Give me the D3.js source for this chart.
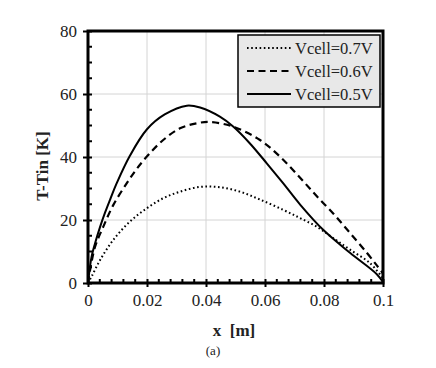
<!DOCTYPE html>
<html>
<head>
<meta charset="utf-8">
<script src="https://cdn.jsdelivr.net/npm/d3@7"></script>
<style>
  body { margin: 0; background: #fff; }
  text { font-family: "Liberation Serif", "Times New Roman", serif; }
</style>
</head>
<body>
<script>
// data
var seriesNames = ['Vcell=0.7V', 'Vcell=0.6V', 'Vcell=0.5V'];

var x07 = [0, 0.0012, 0.0041, 0.0086, 0.0142, 0.0199, 0.0255, 0.0312, 0.038, 0.0447, 0.0515, 0.0583, 0.0662, 0.0719, 0.0775, 0.0832, 0.0888, 0.0956, 0.1];
var y07 = [0, 2.0, 7.3, 13.7, 19.5, 23.7, 26.9, 29.0, 30.5, 30.4, 29.0, 26.5, 23.2, 20.6, 17.9, 14.2, 10.6, 6.3, 1.5];

var x06 = [0, 0.0007, 0.0024, 0.0052, 0.0086, 0.0131, 0.0165, 0.0204, 0.0255, 0.0312, 0.0368, 0.0414, 0.0493, 0.0583, 0.0651, 0.0719, 0.0775, 0.0832, 0.0888, 0.0945, 0.0979, 0.1];
var y06 = [0, 4.1, 11.5, 17.9, 24.8, 31.6, 36.2, 40.6, 45.4, 49.1, 50.7, 51.1, 49.6, 45.4, 40.1, 33.4, 27.6, 22.0, 15.9, 9.6, 5.6, 3];

var x05 = [0, 0.0012, 0.0024, 0.0041, 0.0058, 0.0075, 0.0097, 0.0142, 0.02, 0.026, 0.0335, 0.038, 0.0447, 0.0493, 0.0549, 0.0606, 0.0662, 0.0719, 0.0798, 0.0888, 0.0979, 0.1];
var y05 = [0, 8.3, 12.6, 17.8, 22.4, 26.5, 31.6, 40.4, 48.8, 53.5, 56.3, 55.7, 52.8, 49.6, 44.3, 38.0, 31.6, 24.9, 16.8, 9.6, 2.8, 0.3];

var xTicks = [0, 0.02, 0.04, 0.06, 0.08, 0.1];
var yTicks = [0, 20, 40, 60, 80];

var W = 436, H = 368;
var pL = 88, pR = 383, pT = 31, pB = 283;

var xscale = d3.scaleLinear().domain([0, 0.1]).range([pL, pR]);
var yscale = d3.scaleLinear().domain([0, 80]).range([pB, pT]);

var svg = d3.select('body').append('svg')
    .attr('width', W)
    .attr('height', H);

// gridlines
svg.append('g').selectAll('line')
    .data(xTicks.slice(1, -1))
    .enter().append('line')
    .attr('x1', function (d) { return xscale(d); })
    .attr('x2', function (d) { return xscale(d); })
    .attr('y1', pT).attr('y2', pB)
    .attr('stroke', '#d4d4d4').attr('stroke-width', 1);
svg.append('g').selectAll('line')
    .data(yTicks.slice(1, -1))
    .enter().append('line')
    .attr('y1', function (d) { return yscale(d); })
    .attr('y2', function (d) { return yscale(d); })
    .attr('x1', pL).attr('x2', pR)
    .attr('stroke', '#d4d4d4').attr('stroke-width', 1);

// curves
var series = [
    { name: seriesNames[0], xs: x07, ys: y07, dash: '1.6 2.6', width: 2 },
    { name: seriesNames[1], xs: x06, ys: y06, dash: '7 4.5', width: 2.2 },
    { name: seriesNames[2], xs: x05, ys: y05, dash: null, width: 2 }
];

var line = d3.line()
    .x(function (d) { return xscale(d[0]); })
    .y(function (d) { return yscale(d[1]); })
    .curve(d3.curveCatmullRom.alpha(0.5));

series.forEach(function (s) {
    var pts = s.xs.map(function (v, i) { return [v, s.ys[i]]; });
    svg.append('path')
        .attr('d', line(pts))
        .attr('fill', 'none')
        .attr('stroke', 'black')
        .attr('stroke-width', s.width)
        .attr('stroke-dasharray', s.dash);
});

// axes with inside minor ticks
var xaxis = d3.axisBottom(xscale).tickValues(xTicks).tickSize(4).tickSizeOuter(0)
    .tickPadding(7).tickFormat(function (d) { return d === 0 ? '0' : String(+d.toFixed(2)); });
var gx = svg.append('g').attr('transform', 'translate(0,' + pB + ')').call(xaxis);
gx.selectAll('.tick line').attr('y1', -4).attr('stroke-width', 2);
gx.select('.domain').remove();
gx.selectAll('text').attr('font-size', '17px').attr('font-family', 'Liberation Serif').attr('fill', '#222');

var yaxis = d3.axisLeft(yscale).tickValues(yTicks).tickSize(5).tickSizeOuter(0).tickPadding(6);
var gy = svg.append('g').attr('transform', 'translate(' + pL + ',0)').call(yaxis);
gy.selectAll('.tick line').attr('x1', 4).attr('stroke-width', 2);
gy.select('.domain').remove();
gy.selectAll('text').attr('font-size', '17px').attr('font-family', 'Liberation Serif').attr('fill', '#222');

var xMinor = d3.range(0, 0.1001, 0.004).filter(function (v) { return Math.abs(v / 0.02 - Math.round(v / 0.02)) > 1e-6; });
svg.append('g').selectAll('line')
    .data(xMinor)
    .enter().append('line')
    .attr('x1', function (d) { return xscale(d); })
    .attr('x2', function (d) { return xscale(d); })
    .attr('y1', pB).attr('y2', pB - 4)
    .attr('stroke', 'black').attr('stroke-width', 2);

var yMinor = d3.range(0, 80.1, 5).filter(function (v) { return v % 20 !== 0; });
svg.append('g').selectAll('line')
    .data(yMinor)
    .enter().append('line')
    .attr('y1', function (d) { return yscale(d); })
    .attr('y2', function (d) { return yscale(d); })
    .attr('x1', pL).attr('x2', pL + 4)
    .attr('stroke', 'black').attr('stroke-width', 2);

// frame
svg.append('rect')
    .attr('x', pL).attr('y', pT)
    .attr('width', pR - pL).attr('height', pB - pT)
    .attr('fill', 'none').attr('stroke', 'black').attr('stroke-width', 3);

// legend
var lg = svg.append('g').attr('transform', 'translate(238,35)');
lg.append('rect')
    .attr('width', 142).attr('height', 72)
    .attr('fill', '#e8e8e8').attr('stroke', 'black').attr('stroke-width', 1.5);
series.forEach(function (s, i) {
    var yy = 13 + i * 23;
    lg.append('line')
        .attr('x1', 9).attr('x2', 53)
        .attr('y1', yy).attr('y2', yy)
        .attr('stroke', 'black').attr('stroke-width', s.width)
        .attr('stroke-dasharray', s.dash);
    lg.append('text')
        .attr('x', 57).attr('y', yy + 5.5)
        .attr('font-size', '16.5px').attr('fill', '#222')
        .text(s.name);
});

// axis titles
svg.append('text')
    .attr('transform', 'translate(48,' + ((pT + pB) / 2 + 9) + ') rotate(-90)')
    .attr('text-anchor', 'middle')
    .attr('font-size', '17px').attr('font-weight', 'bold').attr('fill', '#222')
    .text('T-Tin [K]');

svg.append('text')
    .attr('x', 234).attr('y', 336)
    .attr('text-anchor', 'middle')
    .attr('font-size', '17px').attr('font-weight', 'bold').attr('fill', '#222')
    .style('white-space', 'pre')
    .text('x  [m]');

svg.append('text')
    .attr('x', 213).attr('y', 355)
    .attr('text-anchor', 'middle')
    .attr('font-size', '13px').attr('fill', '#222')
    .text('(a)');
</script>
</body>
</html>
